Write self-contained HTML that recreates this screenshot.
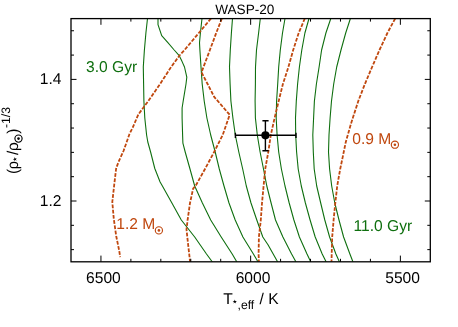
<!DOCTYPE html><html><head><meta charset="utf-8"><style>html,body{margin:0;padding:0;background:#fff}svg{display:block;will-change:transform}text{text-rendering:geometricPrecision}text{font-family:"Liberation Sans",sans-serif}</style></head><body>
<svg width="458" height="327" viewBox="0 0 458 327">
<rect width="458" height="327" fill="#fff"/>
<clipPath id="c"><rect x="71.0" y="18.6" width="359.3" height="243.20000000000002"/></clipPath>
<g clip-path="url(#c)" fill="none" stroke-linejoin="round">
<polyline points="147.5,18.5 145.9,33 144.4,50 143.3,67 143.6,84 143.9,101 144.8,118 146.6,135 147.8,142 150.6,152 154.8,168.5 160.1,182 162.4,186 171.9,203 181.3,220 194.7,237 206.5,254 212.4,262" stroke="#0f6f0f" stroke-width="1.1"/>
<polyline points="158,18.5 158,24.6 161.7,35.7 167.9,42.7 174.2,50 179,55.3 182.1,61.6 184.5,67 186.8,77.2 186,84 183.2,101 182.1,108 182.1,118 182.6,135 182.9,143.2 185.2,152 190,169 194.7,186 202.4,203 210.7,220 221.2,237 232.2,254 236.9,262" stroke="#0f6f0f" stroke-width="1.1"/>
<polyline points="202,18.5 200.4,33 199.5,42.7 199.9,50 201,67 202.2,84 204.2,101 206.9,118 210.7,135 215.2,152 219.3,169 224,186 229,203 235.2,220 242.9,237 253.4,254 258.1,262" stroke="#0f6f0f" stroke-width="1.1"/>
<polyline points="232.5,18.5 231.4,33 230.3,50 229.5,67 230.1,84 230.9,101 232.9,118 235.3,135 238.8,152 242.7,169 246.3,186 251,203 256.8,220 262.8,237 268,244.7 277.7,262" stroke="#0f6f0f" stroke-width="1.1"/>
<polyline points="260.3,18.5 258.6,33 256.5,50 255.5,67 255.4,84 255.1,101 255.4,118 257.3,135 260.1,152 263.5,169 266.8,186 271.1,203 275.5,220 282.9,237 291.6,254 296,262" stroke="#0f6f0f" stroke-width="1.1"/>
<polyline points="285,18.5 282.5,33 280.3,50 278.7,67 277.7,84 276.6,101 276.2,118 277.1,135 278.7,152 281.4,169 285,186 289.2,203 293.9,220 299.4,237 307,254 310.8,262" stroke="#0f6f0f" stroke-width="1.1"/>
<polyline points="309,18.5 304.9,33 301.8,50 299.4,67 297.6,84 296.3,101 295.5,118 295.7,135 296.6,152 298.2,169 301.3,186 305.4,203 310.1,220 315.2,237 322.2,254 326.2,262" stroke="#0f6f0f" stroke-width="1.1"/>
<polyline points="330.8,18.5 325.9,33 321.6,50 319.1,67 316.4,84 314.4,101 313.6,118 312.8,135 313.3,152 314.2,169 316.7,186 320.7,203 324.8,220 329.6,237 335.9,254 339.5,262" stroke="#0f6f0f" stroke-width="1.1"/>
<polyline points="350.4,18.5 345.7,33 341,50 336.7,67 333.7,84 331.5,101 330.1,118 329,135 328.5,152 329.6,169 331.7,186 334.8,203 339,220 343.6,237 349.9,254 353,262" stroke="#0f6f0f" stroke-width="1.1"/>
<polyline points="211,18.5 198.8,33 184.5,50 179.5,55.5 171.1,67 160.1,84 148.3,101 144,106.7 138.3,114.5 132.8,127.4 129.5,134 123.5,151 119.2,160.4 116.2,168 114.2,185 112.3,202 113.8,219 116.2,236 119.2,250.7 120.2,257.2" stroke="#c0480f" stroke-width="1.8" stroke-dasharray="3.75 1.5"/>
<polyline points="221.9,18.5 216.2,33 209.9,50 203.5,67 201.5,72.3 207.6,84 214.2,96.9 229.7,114.8 222.7,135 214.1,152 205,169 195.5,186 193.1,188.7 190,203 187.6,220 186.5,229.4 187.3,237 189.2,254 190.1,262" stroke="#c0480f" stroke-width="1.8" stroke-dasharray="3.75 1.5"/>
<polyline points="304.8,18.5 298.7,33 293.2,50 288.4,67 282.9,84 278.7,101 274.6,118 270.8,135 268.3,152 265.2,169 263.6,186 262,203 260.8,220 258.9,237 258.6,254 258.9,262" stroke="#c0480f" stroke-width="1.8" stroke-dasharray="3.75 1.5"/>
<polyline points="395.2,18.5 387.4,33 379.5,50 372.1,67 364.9,84 358.3,101 352.8,118 350.9,124 345.8,142 342.1,160 340.2,169 337.2,186 335.3,203 333.6,220 332.2,237 331.7,254 331.5,262" stroke="#c0480f" stroke-width="1.8" stroke-dasharray="3.75 1.5"/>
</g>
<path d="M100.94,261.8v-6.2M100.94,18.6v6.2M130.88,261.8v-3M130.88,18.6v3M160.82,261.8v-3M160.82,18.6v3M190.77,261.8v-3M190.77,18.6v3M220.71,261.8v-3M220.71,18.6v3M250.65,261.8v-6.2M250.65,18.6v6.2M280.59,261.8v-3M280.59,18.6v3M310.53,261.8v-3M310.53,18.6v3M340.48,261.8v-3M340.48,18.6v3M370.42,261.8v-3M370.42,18.6v3M400.36,261.8v-6.2M400.36,18.6v6.2M71.0,30.76h3M430.3,30.76h-3M71.0,55.08h3M430.3,55.08h-3M71.0,79.40h5.5M430.3,79.40h-5.5M71.0,103.72h3M430.3,103.72h-3M71.0,128.04h3M430.3,128.04h-3M71.0,152.36h3M430.3,152.36h-3M71.0,176.68h3M430.3,176.68h-3M71.0,201.00h5.5M430.3,201.00h-5.5M71.0,225.32h3M430.3,225.32h-3M71.0,249.64h3M430.3,249.64h-3" stroke="#000" stroke-width="1" fill="none"/>
<rect x="71.0" y="18.6" width="359.3" height="243.20000000000002" fill="none" stroke="#000" stroke-width="1.3"/>
<g stroke="#000" stroke-width="1.4" fill="none"><path d="M235.4,135.3H296M235.4,132.7v5.2M296,132.7v5.2M265.4,120.8V150.8M262.4,120.8h6.2M262.4,150.8h6.2"/></g>
<circle cx="265.4" cy="135.3" r="4.1" fill="#000"/>
<text x="215.2" y="13.5" font-size="13.6">WASP-20</text>
<text x="61.5" y="84.15" font-size="15.6" text-anchor="end">1.4</text>
<text x="61.5" y="205.9" font-size="15.6" text-anchor="end">1.2</text>
<text x="103.39999999999999" y="283.4" font-size="15.6" text-anchor="middle">6500</text>
<text x="253.0" y="283.4" font-size="15.6" text-anchor="middle">6000</text>
<text x="402.6" y="283.4" font-size="15.6" text-anchor="middle">5500</text>
<text x="86" y="72.2" font-size="15.6" fill="#0f6f0f">3.0 Gyr</text>
<text x="353.5" y="230.6" font-size="15.6" fill="#0f6f0f">11.0 Gyr</text>
<text x="352.3" y="143.7" font-size="15.6" fill="#c0480f" id="m352">0.9 M</text>
<g fill="none" stroke="#c0480f" stroke-width="1.15"><circle cx="394.9" cy="144.7" r="3.6"/></g><circle cx="394.9" cy="144.7" r="1.3" fill="#c0480f"/>
<text x="116.3" y="229.4" font-size="15.6" fill="#c0480f" id="m116">1.2 M</text>
<g fill="none" stroke="#c0480f" stroke-width="1.15"><circle cx="158.9" cy="230.4" r="3.6"/></g><circle cx="158.9" cy="230.4" r="1.3" fill="#c0480f"/>
<text x="223.3" y="304.4" font-size="15.6">T</text>
<path d="M234.80,299.40 L235.29,301.03 L236.99,300.99 L235.59,301.96 L236.15,303.56 L234.80,302.53 L233.45,303.56 L234.01,301.96 L232.61,300.99 L234.31,301.03Z" fill="#000"/>
<text x="237.5" y="309.1" font-size="12.2">,eff</text>
<text x="255.2" y="304.4" font-size="15.6" xml:space="preserve"> / K</text>
<g transform="translate(18.2,173.6) rotate(-90)">
<text x="-0.3" y="0" font-size="15.6">(</text>
<text x="4.3" y="0" font-size="15.6" textLength="8.2" lengthAdjust="spacingAndGlyphs">ρ</text>
<path d="M14.40,-5.40 L14.87,-3.84 L16.49,-3.88 L15.15,-2.96 L15.69,-1.42 L14.40,-2.41 L13.11,-1.42 L13.65,-2.96 L12.31,-3.88 L13.93,-3.84Z" fill="#000"/>
<text x="18.6" y="0" font-size="15.6">/</text>
<text x="22.7" y="0" font-size="15.6">ρ</text>
<g fill="none" stroke="#000" stroke-width="1.15"><circle cx="35" cy="0.3" r="3.6"/></g><circle cx="35" cy="0.3" r="1.3" fill="#000"/>
<text x="39.8" y="0" font-size="15.6">)</text>
<text x="45.6" y="-7.8" font-size="12.2">-1/3</text>
</g>
</svg></body></html>
